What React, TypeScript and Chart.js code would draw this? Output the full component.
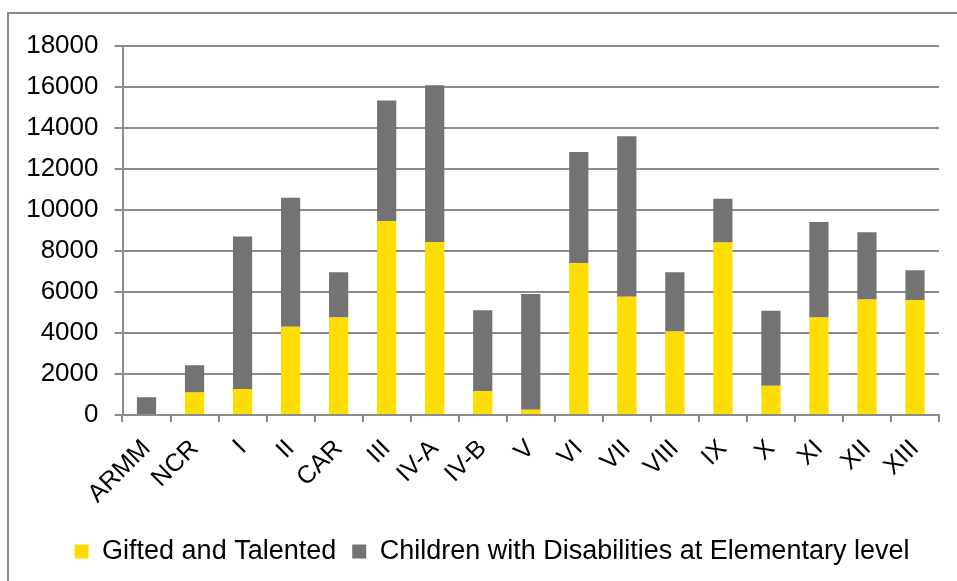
import React, { useEffect, useRef } from "react";
import { Chart, registerables } from "chart.js";

Chart.register(...registerables);

const categories = ["ARMM", "NCR", "I", "II", "CAR", "III", "IV-A", "IV-B", "V", "VI", "VII", "VIII", "IX", "X", "XI", "XII", "XIII"];
const giftedValues = [0, 1100, 1270, 4300, 4750, 9440, 8430, 1160, 260, 7400, 5760, 4070, 8410, 1430, 4750, 5630, 5600];
const disabilityValues = [870, 1330, 7430, 6290, 2200, 5890, 7640, 3940, 5630, 5420, 7820, 2880, 2130, 3650, 4650, 3280, 1450];
const seriesNames = ["Gifted and Talented", "Children with Disabilities at Elementary level"];
const yMin = 0;
const yMax = 18000;
const yStep = 2000;

const FONT = "'Liberation Sans', Arial, sans-serif";
const GRID = "#8c8c8c";

const legendShift = {
  id: "legendShift",
  afterLayout(chart: any) {
    if (chart.legend) {
      chart.legend.left += 18;
      chart.legend.right += 18;
    }
  },
};

export default function App() {
  const ref = useRef<HTMLCanvasElement | null>(null);

  useEffect(() => {
    if (!ref.current) return;
    document.body.style.overflow = "hidden";
    const chart = new Chart(ref.current, {
      type: "bar",
      data: {
        labels: categories,
        datasets: [
          {
            label: seriesNames[0],
            data: giftedValues,
            backgroundColor: "#FFDD00",
            borderWidth: 0,
            barPercentage: 0.4,
            categoryPercentage: 1,
          },
          {
            label: seriesNames[1],
            data: disabilityValues,
            backgroundColor: "#737373",
            borderWidth: 0,
            barPercentage: 0.4,
            categoryPercentage: 1,
          },
        ],
      },
      plugins: [legendShift],
      options: {
        animation: false,
        responsive: false,
        maintainAspectRatio: false,
        layout: { padding: { left: 0, right: 18, top: 28, bottom: 6 } },
        plugins: {
          tooltip: { enabled: false },
          legend: {
            position: "bottom",
            labels: {
              boxWidth: 14,
              boxHeight: 14,
              padding: 16,
              color: "#000",
              font: { family: FONT, size: 27 },
            },
          },
        },
        scales: {
          x: {
            stacked: true,
            grid: {
              drawOnChartArea: false,
              drawTicks: true,
              tickLength: 7,
              offset: true,
              color: GRID,
              lineWidth: 2,
            },
            border: { color: GRID, width: 2 },
            ticks: {
              color: "#000",
              font: { family: FONT, size: 25 },
              maxRotation: 45,
              minRotation: 45,
              autoSkip: false,
              padding: 12,
            },
            afterFit: (s: any) => {
              s.height = 107;
            },
          },
          y: {
            stacked: true,
            min: yMin,
            max: yMax,
            grid: { color: GRID, lineWidth: 2, tickLength: 8 },
            border: { color: GRID, width: 2 },
            ticks: {
              stepSize: yStep,
              color: "#000",
              font: { family: FONT, size: 26 },
              padding: 16,
              callback: (v: any) => String(v),
            },
            afterFit: (s: any) => {
              s.width = 113.5;
            },
          },
        },
      },
    });
    return () => chart.destroy();
  }, []);

  return (
    <div
      style={{
        position: "absolute",
        left: 7,
        top: 12,
        width: 950,
        height: 569,
        borderTop: "2px solid #8a8a8a",
        borderLeft: "2px solid #8a8a8a",
        boxSizing: "border-box",
        overflow: "hidden",
        background: "#fff",
      }}
    >
      <canvas ref={ref} width={948} height={567} style={{ display: "block", width: 948, height: 567 }} />
    </div>
  );
}
